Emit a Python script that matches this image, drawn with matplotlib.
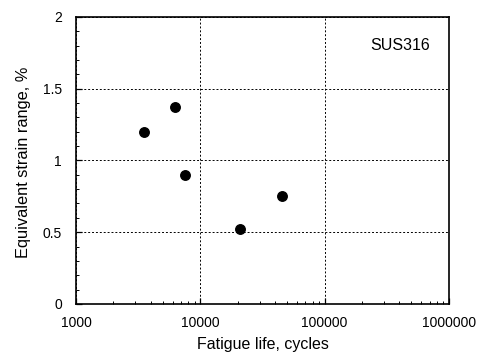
import matplotlib
matplotlib.use("Agg")
import matplotlib.pyplot as plt
from matplotlib.ticker import MultipleLocator, LogLocator, NullFormatter

plt.rcParams['font.family'] = ['Liberation Sans', 'DejaVu Sans']

life = [3520, 6250, 7560, 20900, 45800]
strain = [1.20, 1.37, 0.90, 0.52, 0.75]
xticks = [1000, 10000, 100000, 1000000]
xticklabels = ["1000", "10000", "100000", "1000000"]
yticks = [0, 0.5, 1, 1.5, 2]
yticklabels = ["0", "0.5", "1", "1.5", "2"]

fig = plt.figure(figsize=(4.78, 3.53), dpi=100)
ax = fig.add_axes([0.159, 0.139, 0.780, 0.813])
ax.set_xscale('log')
ax.set_xlim(1000, 1000000)
ax.set_ylim(0, 2)
ax.scatter(life, strain, s=9.5**2 * 0.5184, color='black', zorder=3, clip_on=False)

ax.set_xticks(xticks)
ax.set_xticklabels(xticklabels)
ax.xaxis.set_minor_locator(LogLocator(base=10, subs=range(2, 10)))
ax.xaxis.set_minor_formatter(NullFormatter())
ax.set_yticks(yticks)
ax.set_yticklabels(yticklabels)
ax.yaxis.set_minor_locator(MultipleLocator(0.1))

ax.tick_params(which='both', direction='in', top=False, right=False, labelsize=10, colors='black')
ax.tick_params(which='major', length=4, width=0.9)
ax.tick_params(which='minor', length=2.5, width=0.7)
ax.tick_params(axis='x', pad=9)
ax.tick_params(axis='y', pad=10)

ax.grid(True, which='major', linestyle=(0, (2, 2)), color='black', linewidth=0.7)
for s in ax.spines.values():
    s.set_linewidth(1.2)

fig.text(263 / 478, 1 - 345 / 353, "Fatigue life, cycles", fontsize=11.5, ha='center', va='center')
fig.text(24 / 478, 1 - 162 / 353, "Equivalent strain range, %", fontsize=11.8,
         ha='center', va='center', rotation=90)
ax.text(0.95, 0.899, "SUS316", transform=ax.transAxes, ha='right', va='center', fontsize=11.5)

fig.savefig("out.png", dpi=100)
